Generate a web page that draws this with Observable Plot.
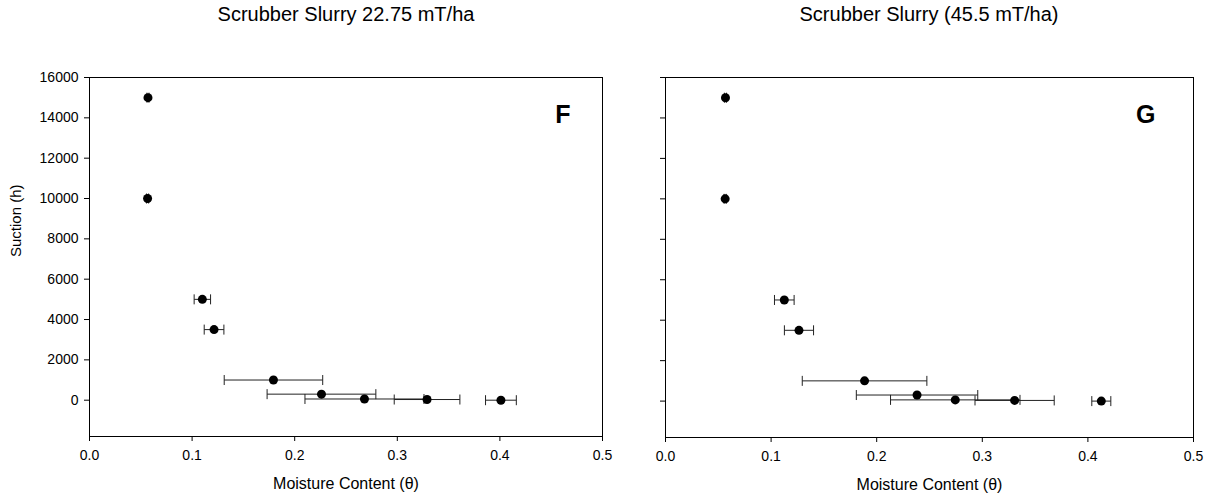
<!DOCTYPE html>
<html>
<head>
<meta charset="utf-8">
<script src="https://cdn.jsdelivr.net/npm/d3@7"></script>
<script src="https://cdn.jsdelivr.net/npm/@observablehq/plot@0.6"></script>
<style>
  html, body { margin: 0; padding: 0; background: #fff; }
  #wrap { position: relative; width: 1215px; height: 502px; font-family: "Liberation Sans", Arial, sans-serif; background: #fff; }
  .ttl { position: absolute; top: 3px; font-size: 20px; color: #000; white-space: nowrap; transform: translateX(-50%); z-index: 2; }
  .panel { position: absolute; top: 0; z-index: 1; }
  .panel svg { overflow: visible; }
</style>
</head>
<body>
<div id="wrap">
  <div class="panel" id="pF" style="left:0px"></div>
  <div class="panel" id="pG" style="left:610px"></div>
  <div class="ttl" style="left:346px">Scrubber Slurry 22.75 mT/ha</div>
  <div class="ttl" style="left:929px">Scrubber Slurry (45.5 mT/ha)</div>
</div>
<script>
// Suction (h) values, shared by both panels
const suction = [15000, 10000, 5000, 3500, 1000, 300, 60, 33, 0];
// Panel F: Scrubber Slurry 22.75 mT/ha
const moistureF = [0.057, 0.0566, 0.110, 0.1214, 0.1793, 0.2261, 0.268, 0.329, 0.401];
const errorF    = [0.001, 0.001, 0.008, 0.0096, 0.048, 0.053, 0.058, 0.032, 0.015];
// Panel G: Scrubber Slurry (45.5 mT/ha)
const moistureG = [0.0568, 0.0565, 0.1125, 0.1264, 0.1885, 0.2382, 0.2744, 0.3306, 0.4127];
const errorG    = [0.001, 0.001, 0.0093, 0.0138, 0.059, 0.0575, 0.0613, 0.0375, 0.009];
// Axis ticks
const xTicks = [0, 0.1, 0.2, 0.3, 0.4, 0.5];
const yTicks = [0, 2000, 4000, 6000, 8000, 10000, 12000, 14000, 16000];

const FONT = '"Liberation Sans", Arial, sans-serif';
const capSymbol = {
  draw(ctx, size) {
    const h = Math.sqrt(size / Math.PI);
    ctx.moveTo(0, -h);
    ctx.lineTo(0, h);
  }
};

function panel(moisture, errs, letter, opts) {
  const rows = moisture.map((m, i) => ({x: m, y: suction[i], lo: m - errs[i], hi: m + errs[i]}));
  const caps = rows.flatMap(d => [{x: d.lo, y: d.y}, {x: d.hi, y: d.y}]);
  return Plot.plot({
    width: opts.width,
    height: 502,
    marginLeft: opts.ml,
    marginRight: opts.mr,
    marginTop: opts.mt,
    marginBottom: opts.mb,
    style: {fontFamily: FONT, background: "transparent", color: "black", overflow: "visible"},
    x: {domain: [0, 0.5]},
    y: {domain: [-1800, 16000]},
    marks: [
      Plot.frame({stroke: "black", strokeWidth: 1}),
      Plot.axisX({ticks: xTicks, tickFormat: d3.format(".1f"), tickSize: 5, tickPadding: 9, fontSize: 14, label: null}),
      Plot.axisY({ticks: yTicks, tickSize: 5, tickPadding: 6, fontSize: 14, label: null,
                  tickFormat: opts.yLabels ? (d => String(d)) : (() => "")}),
      Plot.link(rows, {x1: "lo", x2: "hi", y1: "y", y2: "y", stroke: "#222", strokeWidth: 1}),
      Plot.dot(caps, {x: "x", y: "y", symbol: capSymbol, r: 5, stroke: "#222", strokeWidth: 1, fill: "none"}),
      Plot.dot(rows, {x: "x", y: "y", r: 4.5, fill: "black", stroke: "none"}),
      Plot.text([letter], {frameAnchor: "top-right", dx: opts.ldx, dy: 28, fontSize: 25, fontWeight: "bold", fill: "black"}),
      Plot.text(["Moisture Content (θ)"], {frameAnchor: "bottom", dy: 52, fontSize: 16, fill: "black"}),
      ...(opts.yLabels ? [Plot.text(["Suction (h)"], {frameAnchor: "left", dx: -73, rotate: -90, fontSize: 15, fill: "black"})] : [])
    ]
  });
}

document.getElementById("pF").append(panel(moistureF, errorF, "F",
  {width: 610, ml: 89, mr: 8, mt: 77, mb: 66, yLabels: true, ldx: -32}));
document.getElementById("pG").append(panel(moistureG, errorG, "G",
  {width: 605, ml: 55, mr: 22, mt: 77, mb: 65, yLabels: false, ldx: -38}));
</script>
</body>
</html>
